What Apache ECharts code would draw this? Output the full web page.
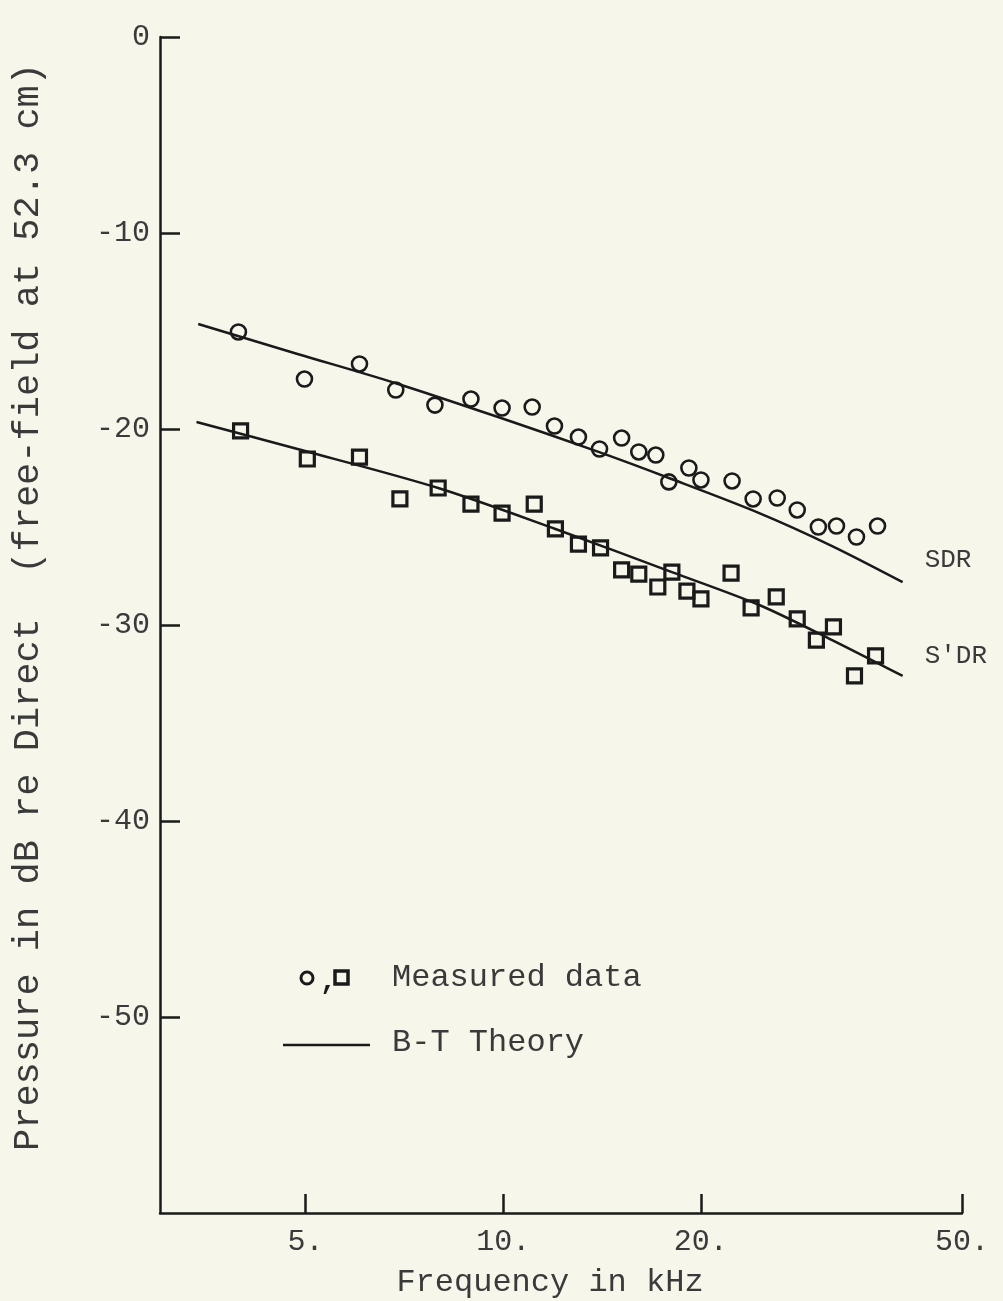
<!DOCTYPE html>
<html>
<head>
<meta charset="utf-8">
<script src="https://cdn.jsdelivr.net/npm/echarts@6/dist/echarts.min.js"></script>
<style>
  html, body { margin: 0; padding: 0; background: #f7f6ea; }
  #chart { width: 1003px; height: 1301px; }
</style>
</head>
<body>
<div id="chart"></div>
<script>
// ---- Data (frequency in kHz, pressure in dB) ----
const sdrFreq = [3.95, 4.98, 6.04, 6.86, 7.87, 8.93, 9.96, 11.07, 11.97, 13.02, 14.02, 15.15, 16.09, 17.08, 17.88, 19.18, 20.01, 22.32, 24.03, 26.15, 28.05, 30.21, 32.19, 34.53, 37.18];
const sdrDb   = [-15.05, -17.45, -16.68, -18.01, -18.78, -18.47, -18.93, -18.88, -19.85, -20.41, -21.02, -20.46, -21.17, -21.33, -22.70, -21.99, -22.60, -22.65, -23.57, -23.52, -24.13, -25.00, -24.95, -25.51, -24.95];

const spdrFreq = [3.98, 5.03, 6.04, 6.96, 7.96, 8.93, 9.96, 11.15, 12.01, 13.02, 14.07, 15.15, 16.09, 17.20, 18.07, 19.05, 20.01, 22.24, 23.86, 26.06, 28.05, 30.00, 31.85, 34.29, 36.92];
const spdrDb   = [-20.10, -21.53, -21.43, -23.57, -23.01, -23.83, -24.29, -23.83, -25.10, -25.87, -26.07, -27.19, -27.40, -28.06, -27.30, -28.27, -28.67, -27.35, -29.13, -28.57, -29.69, -30.77, -30.10, -32.60, -31.58];

const sdrTheoryFreq = [3.43, 4.86, 6.84, 9.82, 13.97, 17.88, 24.55, 31.7, 40.6];
const sdrTheoryDb   = [-14.64, -16.17, -17.65, -19.39, -21.17, -22.50, -24.29, -25.97, -27.81];

const spdrTheoryFreq = [3.41, 4.86, 7.96, 12.01, 18.07, 24.55, 31.7, 40.6];
const spdrTheoryDb   = [-19.64, -21.02, -23.01, -25.10, -27.30, -28.98, -30.77, -32.60];

const xTicks = [5, 10, 20, 50];
const xTickLabels = ['5.', '10.', '20.', '50.'];
const yTicks = [0, -10, -20, -30, -40, -50];

const curveLabels = ['SDR', "S'DR"];
const legendTexts = ['Measured data', 'B-T Theory'];
const xTitle = 'Frequency in kHz';
const yTitle = 'Pressure in dB re Direct  (free-field at 52.3 cm)';

// ---- Build ----
const zip = (a, b) => a.map((v, i) => [v, b[i]]);
const INK = '#1a1a1a';
const TXT = '#3a3a3a';
const FONT = '"Liberation Mono", "DejaVu Sans Mono", monospace';

const chart = echarts.init(document.getElementById('chart'), null, { renderer: 'canvas' });

const option = {
  backgroundColor: '#f7f6ea',
  animation: false,
  grid: { left: 160, right: 41, top: 37, bottom: 88, containLabel: false },
  xAxis: {
    type: 'log',
    logBase: 10,
    min: 3,
    max: 50,
    position: 'bottom',
    axisLine: { show: true, onZero: false, lineStyle: { color: INK, width: 2.5 } },
    axisTick: { show: true, inside: true, length: 19, lineStyle: { color: INK, width: 2.5 }, customValues: xTicks },
    axisLabel: {
      show: true, margin: 14, color: TXT, fontFamily: FONT, fontSize: 30,
      customValues: xTicks,
      formatter: function (v) { const i = xTicks.findIndex(t => Math.abs(t - v) < 1e-6); return i >= 0 ? xTickLabels[i] : ''; }
    },
    splitLine: { show: false },
    minorTick: { show: false }
  },
  yAxis: {
    type: 'value',
    min: -60,
    max: 0,
    interval: 10,
    position: 'left',
    axisLine: { show: true, onZero: false, lineStyle: { color: INK, width: 2.5 } },
    axisTick: { show: true, inside: true, length: 20, lineStyle: { color: INK, width: 2.5 }, customValues: yTicks },
    axisLabel: {
      show: true, margin: 10, color: TXT, fontFamily: FONT, fontSize: 30,
      customValues: yTicks,
      formatter: function (v) { return v === -60 ? '' : String(v); }
    },
    splitLine: { show: false }
  },
  series: [
    {
      name: 'SDR theory', type: 'line', data: zip(sdrTheoryFreq, sdrTheoryDb),
      smooth: 0.3, showSymbol: false, symbol: 'none',
      lineStyle: { color: INK, width: 2.5 },
      endLabel: { show: true, formatter: curveLabels[0], color: TXT, fontFamily: FONT, fontSize: 26, offset: [14, -22] },
      z: 2
    },
    {
      name: "S'DR theory", type: 'line', data: zip(spdrTheoryFreq, spdrTheoryDb),
      smooth: 0.3, showSymbol: false, symbol: 'none',
      lineStyle: { color: INK, width: 2.5 },
      endLabel: { show: true, formatter: curveLabels[1], color: TXT, fontFamily: FONT, fontSize: 26, offset: [14, -20] },
      z: 2
    },
    {
      name: 'SDR measured', type: 'scatter', data: zip(sdrFreq, sdrDb),
      symbol: 'circle', symbolSize: 15,
      itemStyle: { color: 'rgba(0,0,0,0)', borderColor: INK, borderWidth: 2.6, opacity: 1 },
      z: 3
    },
    {
      name: "S'DR measured", type: 'scatter', data: zip(spdrFreq, spdrDb),
      symbol: 'rect', symbolSize: 14,
      itemStyle: { color: 'rgba(0,0,0,0)', borderColor: INK, borderWidth: 3.2, opacity: 1 },
      z: 3
    }
  ],
  graphic: [
    // y-axis title
    { type: 'text', x: 28, y: 607, rotation: Math.PI / 2,
      style: { text: yTitle, fill: TXT, font: '37px ' + FONT, align: 'center', verticalAlign: 'middle' } },
    // x-axis title
    { type: 'text', x: 550, y: 1283,
      style: { text: xTitle, fill: TXT, font: '32px ' + FONT, align: 'center', verticalAlign: 'middle' } },
    // legend: measured
    { type: 'circle', shape: { cx: 307, cy: 978, r: 6 }, style: { fill: 'none', stroke: INK, lineWidth: 3 } },
    { type: 'text', x: 320, y: 982, style: { text: ',', fill: INK, font: 'bold 28px ' + FONT, align: 'left', verticalAlign: 'middle' } },
    { type: 'rect', shape: { x: 335, y: 971, width: 13, height: 13 }, style: { fill: 'none', stroke: INK, lineWidth: 3.5 } },
    { type: 'text', x: 392, y: 978, style: { text: legendTexts[0], fill: TXT, font: '32px ' + FONT, align: 'left', verticalAlign: 'middle' } },
    // legend: theory
    { type: 'line', shape: { x1: 283, y1: 1045, x2: 370, y2: 1045 }, style: { stroke: INK, lineWidth: 2.5 } },
    { type: 'text', x: 392, y: 1043, style: { text: legendTexts[1], fill: TXT, font: '32px ' + FONT, align: 'left', verticalAlign: 'middle' } }
  ]
};

chart.setOption(option);
</script>
</body>
</html>
